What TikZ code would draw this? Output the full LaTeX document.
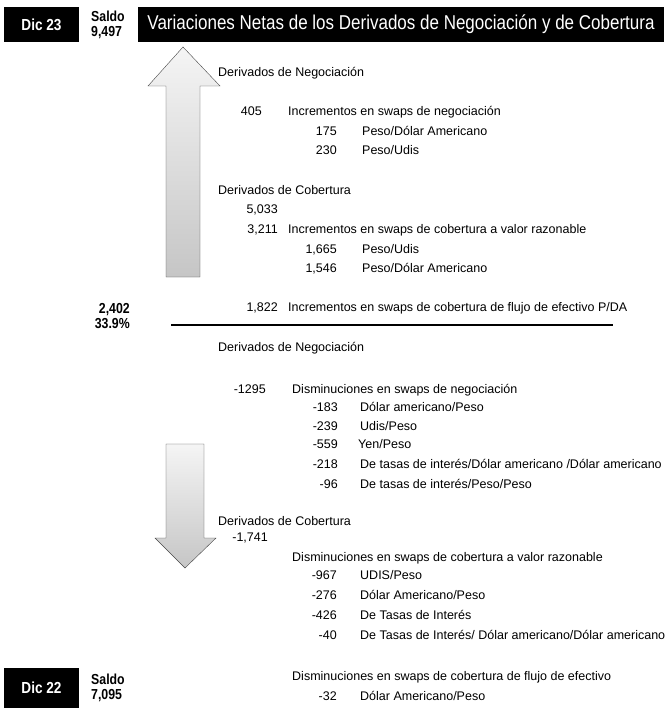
\documentclass[tikz,border=0pt]{standalone}
\usepackage{fontspec}
\setmainfont{Liberation Sans}
\newfontfamily\condfont[FakeStretch=0.85]{Liberation Sans}
\usetikzlibrary{positioning}

\begin{document}
\begin{tikzpicture}[x=1pt,y=-1pt,inner sep=0pt,
    font=\fontsize{12.5}{14}\selectfont]
  \tikzstyle{num}=[anchor=east,text height=9pt,text depth=2.5pt]
  \tikzstyle{lbl}=[anchor=west,text height=9pt,text depth=2.5pt]
  \tikzstyle{dicbox}=[fill=black,text=white,minimum width=75pt,
    font=\condfont\bfseries\fontsize{16}{18}\selectfont]
  \tikzstyle{saldo}=[anchor=west,align=left,
    font=\condfont\bfseries\fontsize{14.5}{15}\selectfont]
  \tikzstyle{bigarrow}=[draw=gray!55!black,top color=gray!8,bottom color=gray!45]
  \useasboundingbox (0,0) rectangle (667,708);

  % encabezado
  \node [dicbox,minimum height=35pt] (dic23) at (41.5,24.5) {Dic 23};
  \node [saldo] (saldo23) at (91,24.5) {Saldo\\9,497};
  \node [fill=black,text=white,minimum width=526pt,minimum height=35pt,
    font=\condfont\fontsize{20}{22}\selectfont] (titulo) at (401,24.5)
    {Variaciones Netas de los Derivados de Negociación y de Cobertura};

  % flechas
  \draw [bigarrow] (183,47) -- (220,86) -- (200,86) -- (200,277)
    -- (166,277) -- (166,86) -- (148,86) -- cycle;
  \draw [bigarrow] (166,444) -- (204,444) -- (204,538) -- (216,538)
    -- (185,568) -- (155,538) -- (166,538) -- cycle;

  % incrementos
  \node [lbl] (negSube) at (218,73) {Derivados de Negociación};
  \node [num] (n405) at (262,112) {405};
  \node [lbl] (l405) at (288,112) {Incrementos en swaps de negociación};
  \node [num] (n175) at (337,132) {175};
  \node [lbl] (l175) at (362,132) {Peso/Dólar Americano};
  \node [num] (n230) at (337,151) {230};
  \node [lbl] (l230) at (362,151) {Peso/Udis};
  \node [lbl] (cobSube) at (218,191) {Derivados de Cobertura};
  \node [num] (n5033) at (278,210) {5,033};
  \node [num] (n3211) at (278,230) {3,211};
  \node [lbl] (l3211) at (288,230) {Incrementos en swaps de cobertura a valor razonable};
  \node [num] (n1665) at (337,250) {1,665};
  \node [lbl] (l1665) at (362,250) {Peso/Udis};
  \node [num] (n1546) at (337,269) {1,546};
  \node [lbl] (l1546) at (362,269) {Peso/Dólar Americano};
  \node [num] (n1822) at (278,308) {1,822};
  \node [lbl] (l1822) at (288,308) {Incrementos en swaps de cobertura de flujo de efectivo P/DA};

  % neto
  \node [saldo,anchor=east,align=right] (neto) at (130,316)
    {2,402\\33.9\%};
  \coordinate (lineaL) at (171,325);
  \coordinate (lineaR) at (613,325);
  \draw [line width=2pt] (lineaL) -- (lineaR);

  % disminuciones
  \node [lbl] (negBaja) at (218,348) {Derivados de Negociación};
  \node [num] (n1295) at (266,390) {-1295};
  \node [lbl] (l1295) at (292,390) {Disminuciones en swaps de negociación};
  \node [num] (n183) at (338,408) {-183};
  \node [lbl] (l183) at (360,408) {Dólar americano/Peso};
  \node [num] (n239) at (338,427) {-239};
  \node [lbl] (l239) at (360,427) {Udis/Peso};
  \node [num] (n559) at (338,445) {-559};
  \node [lbl] (l559) at (358,445) {Yen/Peso};
  \node [num] (n218) at (338,465) {-218};
  \node [lbl] (l218) at (360,465) {De tasas de interés/Dólar americano /Dólar americano};
  \node [num] (n96) at (338,485) {-96};
  \node [lbl] (l96) at (360,485) {De tasas de interés/Peso/Peso};
  \node [lbl] (cobBaja) at (218,522) {Derivados de Cobertura};
  \node [num] (n1741) at (268,538) {-1,741};
  \node [lbl] (valBaja) at (292,558) {Disminuciones en swaps de cobertura a valor razonable};
  \node [num] (n967) at (337,576) {-967};
  \node [lbl] (l967) at (360,576) {UDIS/Peso};
  \node [num] (n276) at (337,596) {-276};
  \node [lbl] (l276) at (360,596) {Dólar Americano/Peso};
  \node [num] (n426) at (337,616) {-426};
  \node [lbl] (l426) at (360,616) {De Tasas de Interés};
  \node [num] (n40) at (337,636) {-40};
  \node [lbl] (l40) at (360,636) {De Tasas de Interés/ Dólar americano/Dólar americano};
  \node [lbl] (flujoBaja) at (292,677) {Disminuciones en swaps de cobertura de flujo de efectivo};
  \node [num] (n32) at (337,697) {-32};
  \node [lbl] (l32) at (360,697) {Dólar Americano/Peso};

  % pie
  \node [dicbox,minimum height=40pt] (dic22) at (41.5,688) {Dic 22};
  \node [saldo] (saldo22) at (91,688) {Saldo\\7,095};
\end{tikzpicture}
\end{document}
